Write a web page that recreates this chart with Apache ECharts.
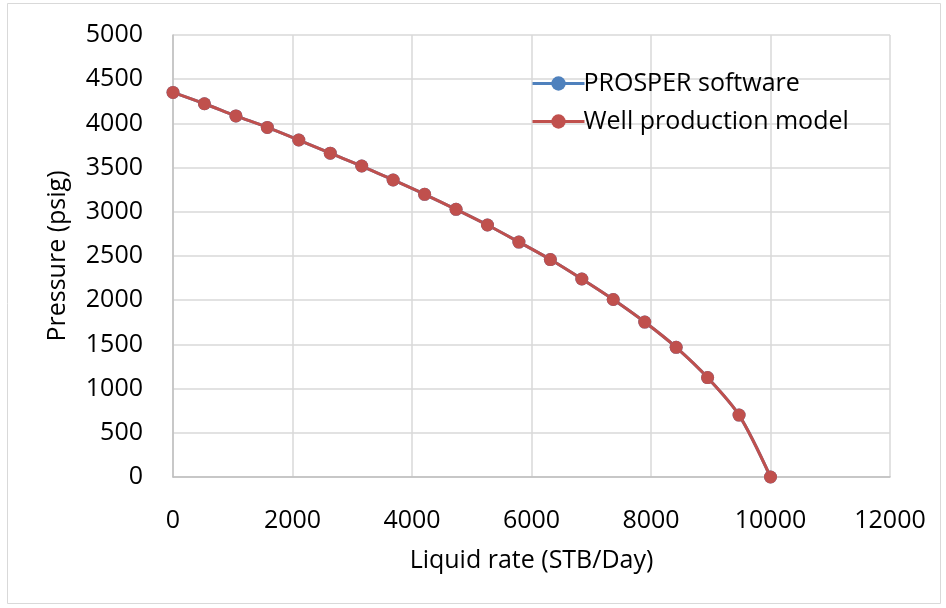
<!DOCTYPE html>
<html>
<head>
<meta charset="utf-8">
<script src="https://cdn.jsdelivr.net/npm/echarts@6/dist/echarts.min.js"></script>
<style>
html,body{margin:0;padding:0;background:#fff;}
#chart{width:946px;height:608px;}
</style>
</head>
<body>
<div id="chart"></div>
<script>
var rates = [0, 526, 1053, 1579, 2105, 2632, 3158, 3684, 4211, 4737, 5263, 5789, 6316, 6842, 7368, 7895, 8421, 8947, 9474, 10000];
var prosperPressure = [4350, 4222, 4085, 3955, 3812, 3663, 3518, 3360, 3198, 3028, 2851, 2658, 2460, 2240, 2008, 1753, 1467, 1125, 700, 0];
var modelPressure = [4350, 4222, 4085, 3955, 3812, 3663, 3518, 3360, 3198, 3028, 2851, 2658, 2460, 2240, 2008, 1753, 1467, 1125, 700, 0];
var seriesNames = ['PROSPER software', 'Well production model'];
var xTitle = 'Liquid rate (STB/Day)';
var yTitle = 'Pressure (psig)';

function pairs(xs, ys){ return xs.map(function(x,i){ return [x, ys[i]]; }); }
function plain(v){ return String(v); }

var font = '"Open Sans", Lato, "Liberation Sans", sans-serif';
var fs = 25;
var chart = echarts.init(document.getElementById('chart'), null, {renderer:'canvas'});
chart.setOption({
  animation:false,
  backgroundColor:'#fff',
  textStyle:{fontFamily:font},
  graphic:[{type:'rect', shape:{x:7.5,y:3.5,width:933,height:600}, style:{fill:'none', stroke:'#D9D9D9', lineWidth:1}, silent:true}],
  grid:{left:173, top:35, right:56, bottom:131, containLabel:false},
  legend:{
    orient:'vertical', left:526, top:66, itemWidth:52, itemHeight:18, itemGap:13,
    textStyle:{fontSize:fs, color:'#000', fontFamily:font, padding:[0,0,0,-6]},
    lineStyle:{width:3},
    data:seriesNames
  },
  xAxis:{
    type:'value', min:0, max:12000, interval:2000,
    name:xTitle, nameLocation:'middle', nameGap:71,
    nameTextStyle:{fontSize:fs, color:'#000', fontFamily:font},
    axisLine:{show:true, lineStyle:{color:'#BFBFBF', width:1.5}},
    axisTick:{show:false},
    axisLabel:{fontSize:fs, color:'#000', margin:31, fontFamily:font, formatter:plain},
    splitLine:{show:true, lineStyle:{color:'#D9D9D9', width:1.5}}
  },
  yAxis:{
    type:'value', min:0, max:5000, interval:500,
    name:yTitle, nameLocation:'middle', nameGap:103, nameRotate:90,
    nameTextStyle:{fontSize:fs, color:'#000', fontFamily:font},
    axisLine:{show:true, lineStyle:{color:'#BFBFBF', width:1.5}},
    axisTick:{show:false},
    axisLabel:{fontSize:fs, color:'#000', margin:30, fontFamily:font, formatter:plain},
    splitLine:{show:true, lineStyle:{color:'#D9D9D9', width:1.5}}
  },
  series:[
    {name:seriesNames[0], type:'line', data:pairs(rates, prosperPressure), smooth:0.3,
     symbol:'circle', symbolSize:13, itemStyle:{color:'#4F81BD'}, lineStyle:{color:'#4F81BD', width:3}},
    {name:seriesNames[1], type:'line', data:pairs(rates, modelPressure), smooth:0.3,
     symbol:'circle', symbolSize:13, itemStyle:{color:'#C0504D'}, lineStyle:{color:'#C0504D', width:3}}
  ]
});
</script>
</body>
</html>
